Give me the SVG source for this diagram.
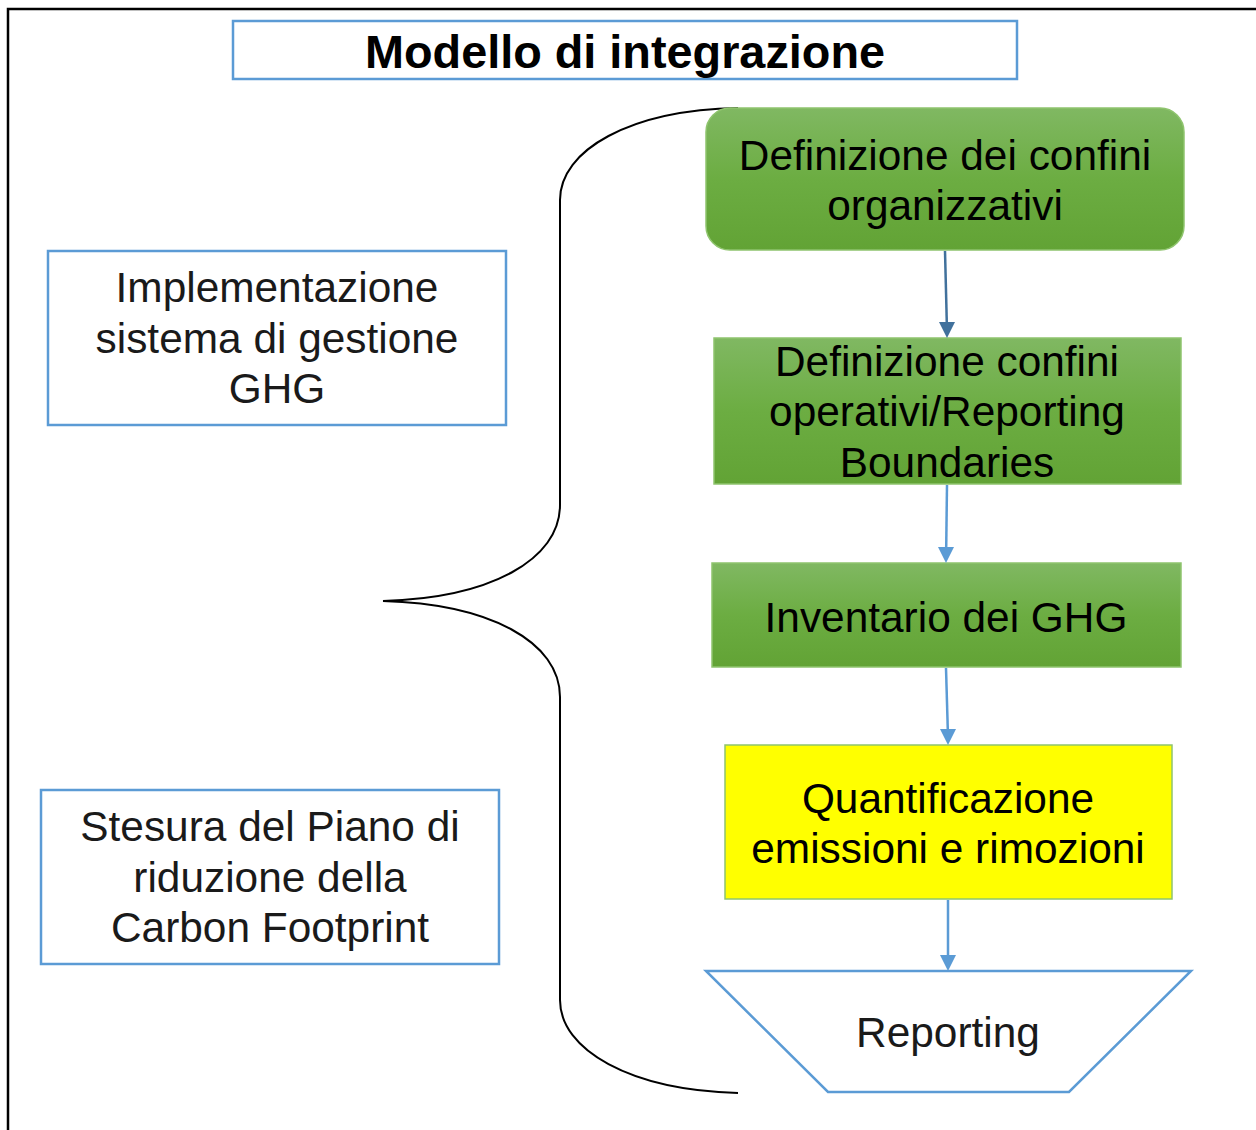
<svg xmlns="http://www.w3.org/2000/svg" width="1256" height="1130" viewBox="0 0 1256 1130">
<defs>
<linearGradient id="g" x1="0" y1="0" x2="0" y2="1">
<stop offset="0" stop-color="#80b862"/>
<stop offset="0.5" stop-color="#6cad42"/>
<stop offset="1" stop-color="#62a335"/>
</linearGradient>
<style>
.t{font-family:"Liberation Sans",Arial,sans-serif;font-size:42.4px;fill:#000;text-anchor:middle}
.tl{font-family:"Liberation Sans",Arial,sans-serif;font-size:42.4px;fill:#1a1a1a;text-anchor:middle}
.bx{fill:#fff;stroke:#5b9bd5;stroke-width:2.5}
.gr{fill:url(#g);stroke:#8fc46e;stroke-width:1.5}
.c{stroke-width:2.5;fill:none}
</style>
</defs>
<rect width="1256" height="1130" fill="#fff"/>
<path d="M8,1130 V9 H1256" fill="none" stroke="#000" stroke-width="2.5"/>
<g id="title">
<rect x="233" y="21" width="784" height="58" class="bx"/>
<text x="625" y="68" font-family="Liberation Sans,Arial,sans-serif" font-size="46" font-weight="bold" text-anchor="middle" textLength="520" lengthAdjust="spacingAndGlyphs">Modello di integrazione</text>
</g>
<g id="brace">
<path d="M738,108 C630,110 560,150 560,200 V505 C560,560 490,598 383,601 C490,604 560,642 560,697 V1000 C560,1050 630,1090 738,1093" fill="none" stroke="#000" stroke-width="2"/>
</g>
<g id="impl">
<rect x="48" y="251" width="458" height="174" class="bx"/>
<text class="tl" x="277" y="302">Implementazione</text>
<text class="tl" x="277" y="353">sistema di gestione</text>
<text class="tl" x="277" y="403">GHG</text>
</g>
<g id="piano">
<rect x="41" y="790" width="458" height="174" class="bx"/>
<text class="tl" x="270" y="841">Stesura del Piano di</text>
<text class="tl" x="270" y="892">riduzione della</text>
<text class="tl" x="270" y="942">Carbon Footprint</text>
</g>
<g id="n1">
<rect x="706" y="108" width="478" height="142" rx="24" class="gr"/>
<text class="t" x="945" y="170">Definizione dei confini</text>
<text class="t" x="945" y="220">organizzativi</text>
</g>
<g id="n2">
<rect x="714" y="338" width="467" height="146" class="gr"/>
<text class="t" x="947" y="376">Definizione confini</text>
<text class="t" x="947" y="426">operativi/Reporting</text>
<text class="t" x="947" y="477">Boundaries</text>
</g>
<g id="n3">
<rect x="712" y="563" width="469" height="104" class="gr"/>
<text class="t" x="946" y="632">Inventario dei GHG</text>
</g>
<g id="n4">
<rect x="725" y="745" width="447" height="154" fill="#ffff00" stroke="#8fc46e" stroke-width="1.5"/>
<text class="t" x="948" y="813">Quantificazione</text>
<text class="t" x="948" y="863">emissioni e rimozioni</text>
</g>
<g id="n5">
<polygon points="706,971 1191,971 1069,1092 828,1092" fill="#fff" stroke="#5b9bd5" stroke-width="2.5"/>
<text class="tl" x="948" y="1047">Reporting</text>
</g>
<g id="connectors">
<line x1="945" y1="251" x2="946.8" y2="323" class="c" stroke="#41719c"/>
<polygon points="939,322 955,322 947,338" fill="#41719c"/>
<line x1="947" y1="485" x2="946.2" y2="548" class="c" stroke="#5b9bd5"/>
<polygon points="938,547 954,547 946,563" fill="#5b9bd5"/>
<line x1="946" y1="668" x2="947.8" y2="730" class="c" stroke="#5b9bd5"/>
<polygon points="940,729 956,729 948,745" fill="#5b9bd5"/>
<line x1="948" y1="900" x2="948" y2="956" class="c" stroke="#5b9bd5"/>
<polygon points="940,955 956,955 948,971" fill="#5b9bd5"/>
</g>
</svg>
